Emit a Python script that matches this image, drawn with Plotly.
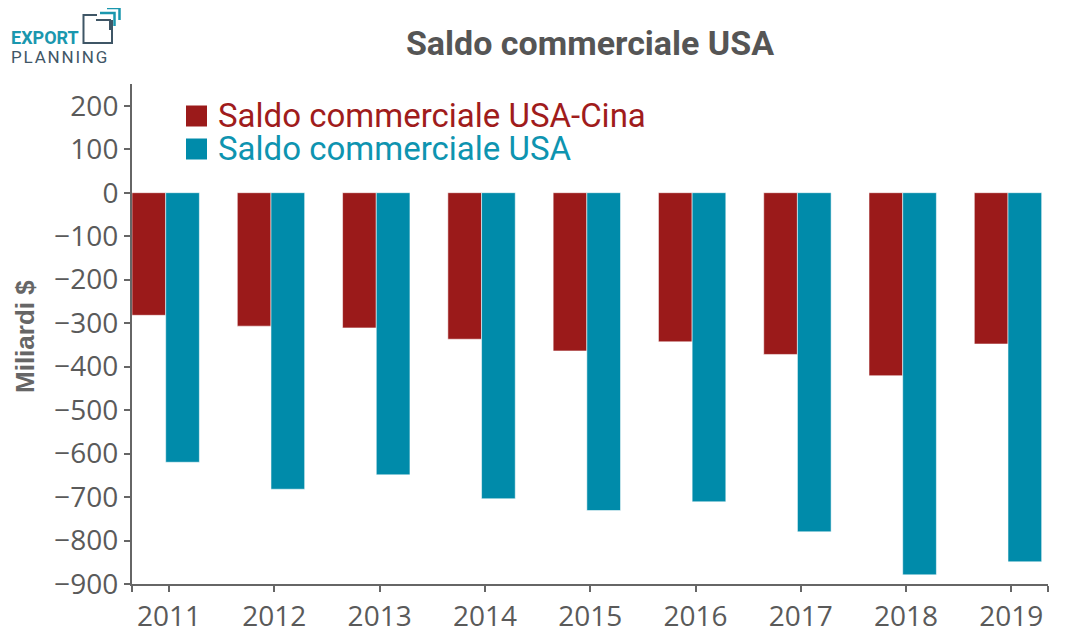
import plotly.graph_objects as go

years = [2011, 2012, 2013, 2014, 2015, 2016, 2017, 2018, 2019]
saldo_usa_cina = [-282, -307, -311, -337, -364, -343, -372, -421, -348]
saldo_usa = [-620, -682, -649, -704, -731, -711, -780, -879, -849]
series_names = ["Saldo commerciale USA-Cina", "Saldo commerciale USA"]
y_ticks = list(range(-900, 201, 100))

RED = "#9B1A1A"
BLUE = "#008BAA"
GRAY = "#5a5a5a"

OFF = 8  # browser body margin
W, H = 1081 - OFF, 638 - OFF
# plot area in screen pixels
L, R, T, B = 132, 1048, 84, 584


def px2x(px):
    return (px - L) / (R - L)


def px2y(py):
    return (B - py) / (B - T)


fig = go.Figure()
for name, vals, col in [(series_names[0], saldo_usa_cina, RED), (series_names[1], saldo_usa, BLUE)]:
    fig.add_trace(go.Bar(
        x=years, y=vals, name=name, showlegend=False,
        marker=dict(color=col, line=dict(color="rgba(255,255,255,0.55)", width=1)),
        hoverinfo="skip",
    ))

tickvals_x = [2010.68] + [y + 0.032 for y in years] + [2019.38]
ticktext_x = [""] + [str(y) for y in years] + [""]

annotations = []
shapes = []

# Legend (manual): colour squares + one two-line text block
legend_rows = [(series_names[0], RED, "#A01C1C", 116), (series_names[1], BLUE, "#0E94B0", 149)]
for name, col, tcol, cy in legend_rows:
    shapes.append(dict(type="rect", xref="paper", yref="paper",
                       x0=px2x(186), x1=px2x(207), y0=px2y(cy + 10.5), y1=px2y(cy - 10.5),
                       fillcolor=col, line=dict(width=0)))
legend_text = "<br>".join(
    f'<span style="font-size:33px;color:{tcol}">{name}</span>' for name, col, tcol, cy in legend_rows)
annotations.append(dict(text=legend_text, xref="paper", yref="paper", x=px2x(216), y=px2y(132.5),
                        xanchor="left", yanchor="middle", align="left", showarrow=False,
                        font=dict(family="Roboto", size=25.4, color=RED)))

# Axis title
annotations.append(dict(text="<b>Miliardi $</b>", xref="paper", yref="paper",
                        x=px2x(25), y=px2y(337), textangle=-90, showarrow=False,
                        xanchor="center", yanchor="middle",
                        font=dict(family="Liberation Sans", size=26, color="#666666")))

# Logo
annotations.append(dict(
    text="<b>EXPORT</b>", xref="paper", yref="paper", x=px2x(9), y=px2y(38),
    xanchor="left", yanchor="middle", showarrow=False,
    font=dict(family="Roboto", size=18, color="#1A97AE")))
annotations.append(dict(
    text='<span style="letter-spacing:1.8px">PLANNING</span>', xref="paper", yref="paper",
    x=px2x(9), y=px2y(57), xanchor="left", yanchor="middle", showarrow=False,
    font=dict(family="Roboto", size=17, color="#3F5666")))


def path(points):
    return "M" + " L".join(f"{px2x(a):.5f},{px2y(b):.5f}" for a, b in points)


shapes.append(dict(type="path", xref="paper", yref="paper",
                   path=path([(97, 15), (83.5, 15), (83.5, 43), (112, 43), (112, 20)]),
                   line=dict(color="#3F5666", width=2)))
shapes.append(dict(type="path", xref="paper", yref="paper",
                   path=path([(96, 20), (110, 20), (110, 30)]),
                   line=dict(color="#3F5666", width=2)))
shapes.append(dict(type="path", xref="paper", yref="paper",
                   path=path([(100, 13), (114.5, 13), (114.5, 26)]),
                   line=dict(color="#1A97AE", width=2.5)))
shapes.append(dict(type="path", xref="paper", yref="paper",
                   path=path([(107, 8), (119.5, 8), (119.5, 20)]),
                   line=dict(color="#1A97AE", width=2.5)))

fig.update_layout(
    width=W, height=H,
    margin=dict(l=L - OFF, r=(W + OFF) - R, t=T - OFF, b=(H + OFF) - B, pad=0, autoexpand=False),
    paper_bgcolor="white", plot_bgcolor="white",
    barmode="group", bargap=0.36, bargroupgap=0,
    title=dict(text="<b>Saldo commerciale USA</b>", x=px2x(590), xref="paper", xanchor="center",
               y=1 - (43 - OFF) / H, yref="container", yanchor="middle",
               font=dict(family="Roboto", size=34, color="#555555")),
    xaxis=dict(range=[2010.68, 2019.38], tickmode="array", tickvals=tickvals_x, ticktext=ticktext_x,
               showgrid=False, zeroline=False, showline=True, linecolor="#666666", linewidth=2,
               ticks="outside", ticklen=6, tickwidth=1.5, tickcolor="#666666",
               tickfont=dict(family="Open Sans", size=28, color=GRAY)),
    yaxis=dict(range=[-900, 250], tickmode="array", tickvals=y_ticks,
               showgrid=False, zeroline=False, showline=True, linecolor="#666666", linewidth=2,
               ticks="outside", ticklen=6, tickwidth=1.5, tickcolor="#666666",
               tickfont=dict(family="Open Sans", size=28, color=GRAY)),
    annotations=annotations, shapes=shapes,
)

fig.write_html("out.html")
